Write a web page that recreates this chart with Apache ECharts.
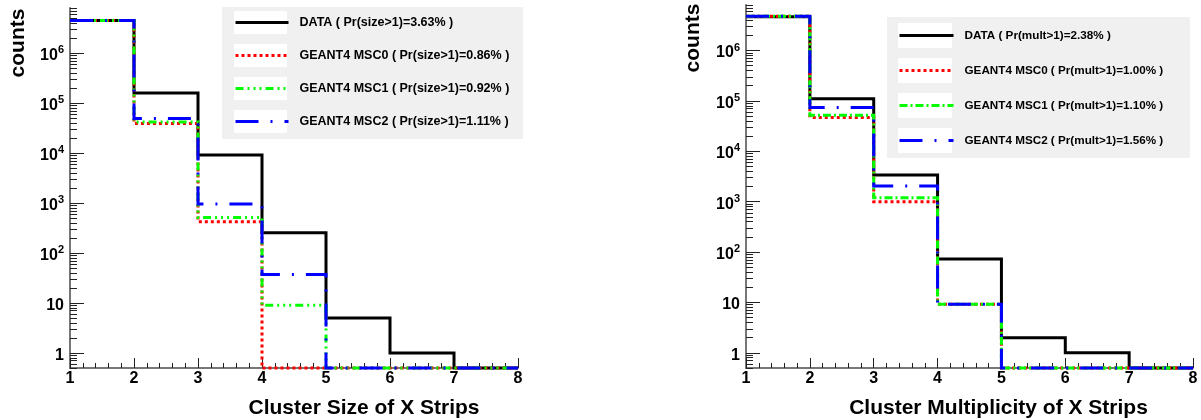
<!DOCTYPE html>
<html><head><meta charset="utf-8">
<script src="https://cdn.jsdelivr.net/npm/echarts@6/dist/echarts.min.js"></script>
<style>html,body{margin:0;padding:0;background:#fff}#c{width:1201px;height:420px}</style>
</head><body><div id="c"></div>
<script>
// ---- data ----
const binEdges = [1, 2, 3, 4, 5, 6, 7, 8];
const xTickLabels = ['1', '2', '3', '4', '5', '6', '7', '8'];
const yMajorTicks = [1, 10, 100, 1000, 10000, 100000, 1000000];

const sizeNames = [
  'DATA ( Pr(size>1)=3.63% )',
  'GEANT4 MSC0 ( Pr(size>1)=0.86% )',
  'GEANT4 MSC1 ( Pr(size>1)=0.92% )',
  'GEANT4 MSC2 ( Pr(size>1)=1.11% )'
];
const sizeData = [4.5e6, 1.6e5, 9.1e3, 255, 5, 1, 0];
const sizeMsc0 = [4.5e6, 3.9e4, 424, 0, 0, 0, 0];
const sizeMsc1 = [4.5e6, 4.2e4, 516, 9, 0, 0, 0];
const sizeMsc2 = [4.5e6, 4.9e4, 955, 37, 0, 0, 0];

const multNames = [
  'DATA ( Pr(mult>1)=2.38% )',
  'GEANT4 MSC0 ( Pr(mult>1)=1.00% )',
  'GEANT4 MSC1 ( Pr(mult>1)=1.10% )',
  'GEANT4 MSC2 ( Pr(mult>1)=1.56% )'
];
const multData = [4.7e6, 1.1e5, 3.4e3, 73, 2, 1, 0];
const multMsc0 = [4.8e6, 4.7e4, 1.0e3, 9.2, 0, 0, 0];
const multMsc1 = [4.8e6, 5.2e4, 1.2e3, 9.2, 0, 0, 0];
const multMsc2 = [4.8e6, 7.4e4, 2.05e3, 9.2, 0, 0, 0];

// ---- config ----
const FONT = "'Liberation Sans', Arial, Helvetica, sans-serif";
const Y_MIN = 0.5, Y_MAX = 8e6;

const minorTicks = [];
for (let n = -1; n <= 6; n++) {
  for (let k = 2; k <= 9; k++) {
    const v = Number((k * Math.pow(10, n)).toPrecision(10));
    if (v >= Y_MIN && v <= Y_MAX) minorTicks.push(v);
  }
}

function histPoints(vals) {
  const pts = vals.map((v, i) => [binEdges[i], v > 0 ? v : Y_MIN]);
  const last = vals[vals.length - 1];
  pts.push([binEdges[vals.length], last > 0 ? last : Y_MIN]);
  return pts;
}

const styleSets = [
  [
    { color: '#000000', type: 'solid' },
    { color: '#ff0000', type: [3, 3] },
    { color: '#00ff00', type: [8, 4, 2, 4, 2, 4, 2, 4] },
    { color: '#0000ff', type: [23, 12, 2, 12] }
  ],
  [
    { color: '#000000', type: 'solid' },
    { color: '#ff0000', type: [3, 3] },
    { color: '#00ff00', type: [8, 3, 2, 3] },
    { color: '#0000ff', type: [23, 12, 2, 12] }
  ]
];

function yLabel(v) {
  const e = Math.round(Math.log10(v));
  if (e === 0) return '{b|1}';
  if (e === 1) return '{b|10}';
  return '{b|10}{s|' + e + '}';
}

function makeXAxis(g, name, padL) {
  return {
    type: 'value', gridIndex: g, min: 1, max: 8, interval: 1,
    axisLine: { show: true, onZero: false, lineStyle: { color: '#777', width: 2 } },
    axisTick: { show: true, inside: true, length: 10, lineStyle: { color: '#222', width: 1 } },
    minorTick: { show: true, splitNumber: 5, length: 5, lineStyle: { color: '#222', width: 1 } },
    splitLine: { show: false }, minorSplitLine: { show: false },
    axisLabel: {
      margin: 3, fontSize: 16, fontWeight: 'bold', fontFamily: FONT, color: '#000',
      formatter: v => xTickLabels[binEdges.indexOf(v)] || ''
    },
    name: name, nameLocation: 'middle', nameGap: 30, nameMoveOverlap: false,
    nameTextStyle: { fontSize: 21, fontWeight: 'bold', fontFamily: FONT, color: '#000', padding: [0, 0, 0, padL] }
  };
}

function makeYAxes(g, padL, gap) {
  return [
    {
      type: 'log', logBase: 10, gridIndex: g, position: 'left', min: Y_MIN, max: Y_MAX,
      axisLine: { show: true, onZero: false, lineStyle: { color: '#777', width: 2 } },
      axisTick: { show: true, inside: true, length: 14, customValues: yMajorTicks, lineStyle: { color: '#222', width: 1 } },
      minorTick: { show: false }, splitLine: { show: false },
      axisLabel: {
        customValues: yMajorTicks, margin: 6, formatter: yLabel, padding: [5, 0, 0, 0],
        rich: {
          b: { fontSize: 16, fontWeight: 'bold', fontFamily: FONT, color: '#000', lineHeight: 22 },
          s: { fontSize: 11, fontWeight: 'bold', fontFamily: FONT, color: '#000', lineHeight: 12, verticalAlign: 'top' }
        }
      },
      name: 'counts', nameLocation: 'middle', nameGap: gap, nameRotate: 90, nameMoveOverlap: false,
      nameTextStyle: { fontSize: 21, fontWeight: 'bold', fontFamily: FONT, color: '#000', padding: [0, 0, 0, padL] }
    },
    {
      type: 'log', logBase: 10, gridIndex: g, position: 'left', offset: 0, min: Y_MIN, max: Y_MAX,
      axisLine: { show: false },
      axisTick: { show: true, inside: true, length: 7, customValues: minorTicks, lineStyle: { color: '#222', width: 1 } },
      axisLabel: { show: false }, splitLine: { show: false }, minorTick: { show: false }
    }
  ];
}

const series = [];
const panels = [
  { names: sizeNames, vals: [sizeData, sizeMsc0, sizeMsc1, sizeMsc2] },
  { names: multNames, vals: [multData, multMsc0, multMsc1, multMsc2] }
];
panels.forEach((p, g) => {
  p.vals.forEach((vals, i) => {
    const st = styleSets[g][i];
    series.push({
      type: 'line', name: p.names[i], xAxisIndex: g, yAxisIndex: g * 2,
      step: 'end', symbol: 'none', showSymbol: false, clip: false, animation: false,
      lineStyle: { color: st.color, width: 3, type: st.type, cap: 'butt', join: 'miter' },
      itemStyle: { color: st.color },
      emphasis: { disabled: true },
      data: histPoints(vals)
    });
  });
});

// legend item box height is the (invisible) symbol = 0.8 * itemHeight
function legendOpt(names, left, top, iw, ih, pitch, fs) {
  const sym = 0.8 * ih;
  return {
    data: names, orient: 'vertical', left: left, top: top + (ih - sym) / 2, padding: 0,
    itemWidth: iw, itemHeight: ih, itemGap: pitch - sym, selectedMode: false,
    textStyle: { fontSize: fs, fontWeight: 'bold', fontFamily: FONT, color: '#000', padding: [0, 0, 0, 6] },
    lineStyle: { width: 3 },
    itemStyle: { opacity: 0, borderWidth: 0 }
  };
}

const graphics = [
  { type: 'rect', z: 1, shape: { x: 222, y: 7, width: 301, height: 132 }, style: { fill: '#f0f0f0' } },
  { type: 'rect', z: 1, shape: { x: 887, y: 17, width: 303, height: 141 }, style: { fill: '#f0f0f0' } }
];
for (let i = 0; i < 4; i++) {
  graphics.push({ type: 'rect', z: 2, shape: { x: 234, y: 11 + 33 * i, width: 53, height: 23 }, style: { fill: '#ffffff' } });
  graphics.push({ type: 'rect', z: 2, shape: { x: 898, y: 23 + 35 * i, width: 54, height: 25 }, style: { fill: '#ffffff' } });
}

const yAxesL = makeYAxes(0, 290, 41);
const yAxesR = makeYAxes(1, 297, 42);

const option = {
  animation: false,
  backgroundColor: '#ffffff',
  grid: [
    { left: 70, top: 8, width: 448, height: 360, containLabel: false, outerBoundsMode: 'none' },
    { left: 746, top: 5, width: 447, height: 363, containLabel: false, outerBoundsMode: 'none' }
  ],
  xAxis: [makeXAxis(0, 'Cluster Size of X Strips', 140), makeXAxis(1, 'Cluster Multiplicity of X Strips', 58)],
  yAxis: [yAxesL[0], yAxesL[1], yAxesR[0], yAxesR[1]],
  legend: [
    legendOpt(sizeNames, 234, 11, 53, 23, 33, 12.5),
    legendOpt(multNames, 898, 23, 54, 25, 35, 11.7)
  ],
  graphic: { elements: graphics },
  series: series
};

const chart = echarts.init(document.getElementById('c'), null, { renderer: 'canvas' });
chart.setOption(option);
</script>
</body></html>
